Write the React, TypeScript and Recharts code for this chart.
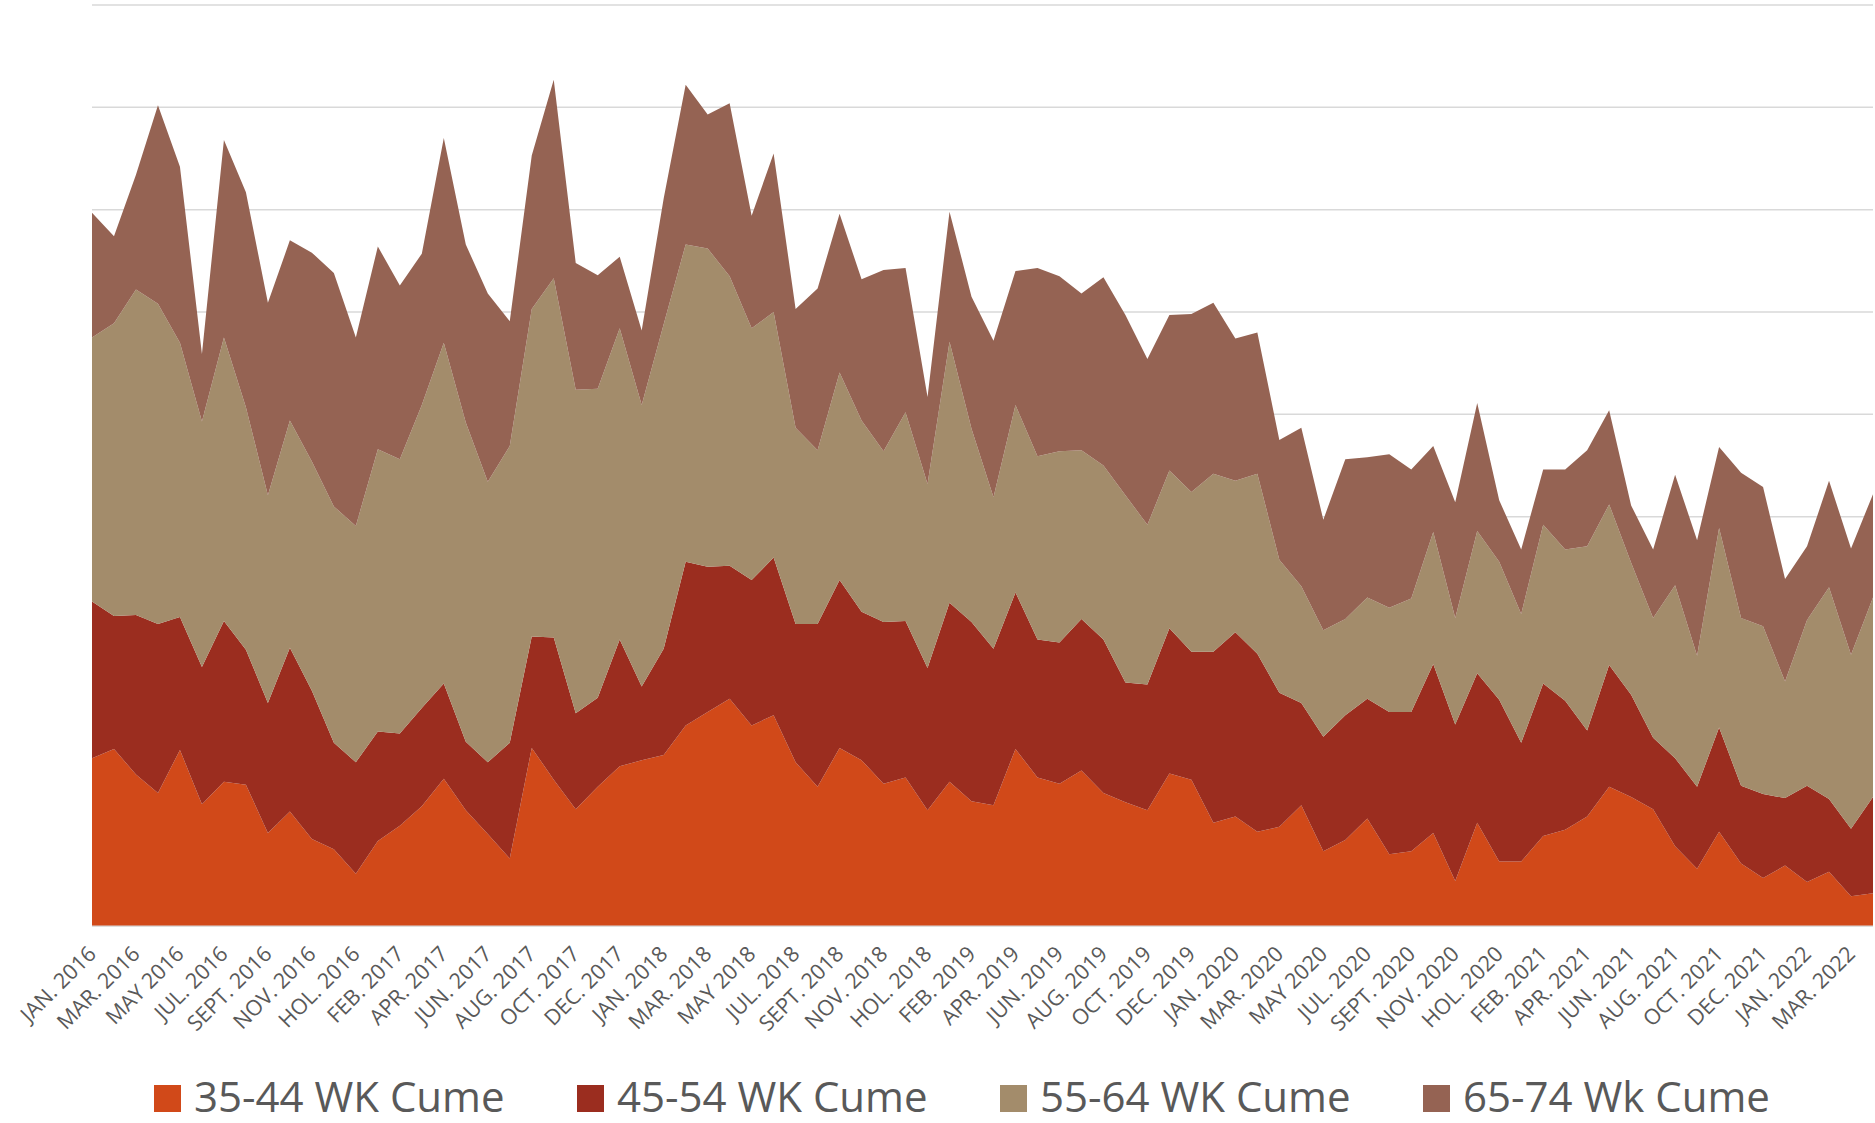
import React from 'react';
import {
  AreaChart,
  Area,
  XAxis,
  YAxis,
  CartesianGrid,
  Legend
} from 'recharts';

// each year has 12 months plus a holiday book
const MONTHS = ['JAN.', 'FEB.', 'MAR.', 'APR.', 'MAY', 'JUN.', 'JUL.', 'AUG.', 'SEPT.', 'OCT.', 'NOV.', 'DEC.', 'HOL.'];
const YEARS = [2016, 2017, 2018, 2019, 2020, 2021, 2022];
const PERIODS = YEARS.flatMap((yr) => MONTHS.map((m) => `${m} ${yr}`)).slice(0, 82);

const AGE_35_44 = [
  164, 173, 148, 130, 172, 119, 141, 138, 91, 112,
  85, 75, 51, 83, 98, 117, 144, 113, 90, 66,
  174, 143, 114, 136, 156, 162, 167, 196, 209, 222,
  196, 206, 160, 136, 174, 162, 139, 145, 113, 141,
  122, 118, 173, 145, 139, 152, 130, 121, 113, 149,
  143, 101, 107, 92, 97, 118, 73, 84, 105, 70,
  73, 91, 44, 101, 63, 63, 88, 94, 107, 136,
  126, 114, 78, 56, 92, 61, 47, 59, 43, 53,
  29, 32
];

const AGE_45_54 = [
  153, 130, 156, 165, 130, 134, 157, 132, 127, 160,
  145, 104, 109, 107, 90, 96, 93, 67, 70, 113,
  109, 139, 94, 87, 124, 72, 104, 160, 142, 130,
  142, 154, 135, 159, 164, 145, 158, 153, 139, 175,
  175, 153, 153, 135, 138, 148, 150, 117, 123, 142,
  125, 167, 180, 174, 131, 100, 112, 122, 117, 139,
  136, 165, 153, 146, 158, 116, 149, 126, 84, 119,
  100, 70, 86, 80, 102, 76, 82, 66, 94, 71,
  66, 94
];

const AGE_55_64 = [
  258, 286, 318, 313, 268, 240, 277, 237, 203, 222,
  224, 231, 231, 276, 268, 296, 333, 312, 274, 290,
  320, 351, 316, 302, 304, 275, 317, 310, 311, 283,
  246, 240, 192, 170, 203, 187, 167, 204, 180, 255,
  189, 148, 183, 179, 187, 165, 170, 183, 156, 154,
  156, 174, 148, 176, 130, 114, 104, 94, 99, 102,
  111, 129, 104, 139, 135, 126, 155, 148, 180, 157,
  129, 117, 169, 128, 195, 164, 164, 114, 162, 207,
  170, 195
];

const AGE_65_74 = [
  122, 85, 112, 194, 172, 66, 193, 210, 188, 176,
  204, 228, 184, 198, 170, 148, 200, 174, 184, 122,
  150, 194, 124, 111, 70, 73, 123, 156, 131, 169,
  110, 155, 116, 158, 155, 138, 177, 141, 85, 127,
  129, 153, 131, 184, 171, 153, 184, 176, 162, 152,
  174, 167, 139, 138, 117, 155, 108, 156, 137, 150,
  126, 84, 113, 125, 60, 63, 54, 78, 94, 92,
  56, 67, 108, 113, 79, 142, 136, 100, 72, 104,
  104, 101
];

const Y_TICKS = [0, 100, 200, 300, 400, 500, 600, 700, 800, 900];

const SERIES = [
  { key: 'a3544', name: '35-44 WK Cume', color: '#D14919' },
  { key: 'a4554', name: '45-54 WK Cume', color: '#9B2D1F' },
  { key: 'a5564', name: '55-64 WK Cume', color: '#A38C6B' },
  { key: 'a6574', name: '65-74 Wk Cume', color: '#956353' }
];

const data = PERIODS.map((period, i) => ({
  period,
  a3544: AGE_35_44[i],
  a4554: AGE_45_54[i],
  a5564: AGE_55_64[i],
  a6574: AGE_65_74[i]
}));

const FONT = '"Open Sans", "Liberation Sans", sans-serif';
const TEXT_COLOR = '#595959';

const AxisTick = (props: any) => {
  const { x, y, payload } = props;
  return (
    <g transform={`translate(${x},${y + 16})`}>
      <text
        x={0}
        y={0}
        dy="0.35em"
        textAnchor="end"
        transform="rotate(-45)"
        fontSize={21.5}
        fontFamily={FONT}
        fill={TEXT_COLOR}
      >
        {payload.value}
      </text>
    </g>
  );
};

const renderLegend = () => (
  <div
    style={{
      display: 'flex',
      paddingLeft: 154,
      paddingTop: 22,
      height: 76,
      boxSizing: 'border-box',
      fontFamily: FONT,
      overflow: 'visible'
    }}
  >
    {SERIES.map((s) => (
      <div key={s.key} style={{ width: 423, display: 'flex', alignItems: 'center' }}>
        <span
          style={{
            display: 'inline-block',
            flex: 'none',
            width: 27,
            height: 27,
            background: s.color,
            marginRight: 13,
            marginTop: 4
          }}
        />
        <span style={{ fontSize: 42, lineHeight: '50px', color: TEXT_COLOR, whiteSpace: 'nowrap' }}>
          {s.name}
        </span>
      </div>
    ))}
  </div>
);

export default function App() {
  return (
    <div
      style={{
        position: 'absolute',
        left: 0,
        top: 0,
        width: 1875,
        height: 1123,
        background: '#ffffff'
      }}
    >
      <AreaChart
        width={1875}
        height={1123}
        data={data}
        margin={{ top: 5, right: 2, bottom: 0, left: 92 }}
      >
        <CartesianGrid vertical={false} stroke="#D9D9D9" strokeWidth={1.5} />
        <XAxis
          dataKey="period"
          interval={1}
          height={121}
          tickLine={false}
          axisLine={{ stroke: '#D9D9D9' }}
          tick={<AxisTick />}
        />
        <YAxis hide domain={[0, 900]} ticks={Y_TICKS} />
        <Legend
          verticalAlign="bottom"
          content={renderLegend}
          wrapperStyle={{ left: 0, top: 1047, width: 1875, height: 76 }}
        />
        {SERIES.map((s) => (
          <Area
            key={s.key}
            type="linear"
            dataKey={s.key}
            name={s.name}
            stackId="cume"
            stroke="none"
            fill={s.color}
            fillOpacity={1}
            dot={false}
            activeDot={false}
            isAnimationActive={false}
          />
        ))}
      </AreaChart>
    </div>
  );
}
